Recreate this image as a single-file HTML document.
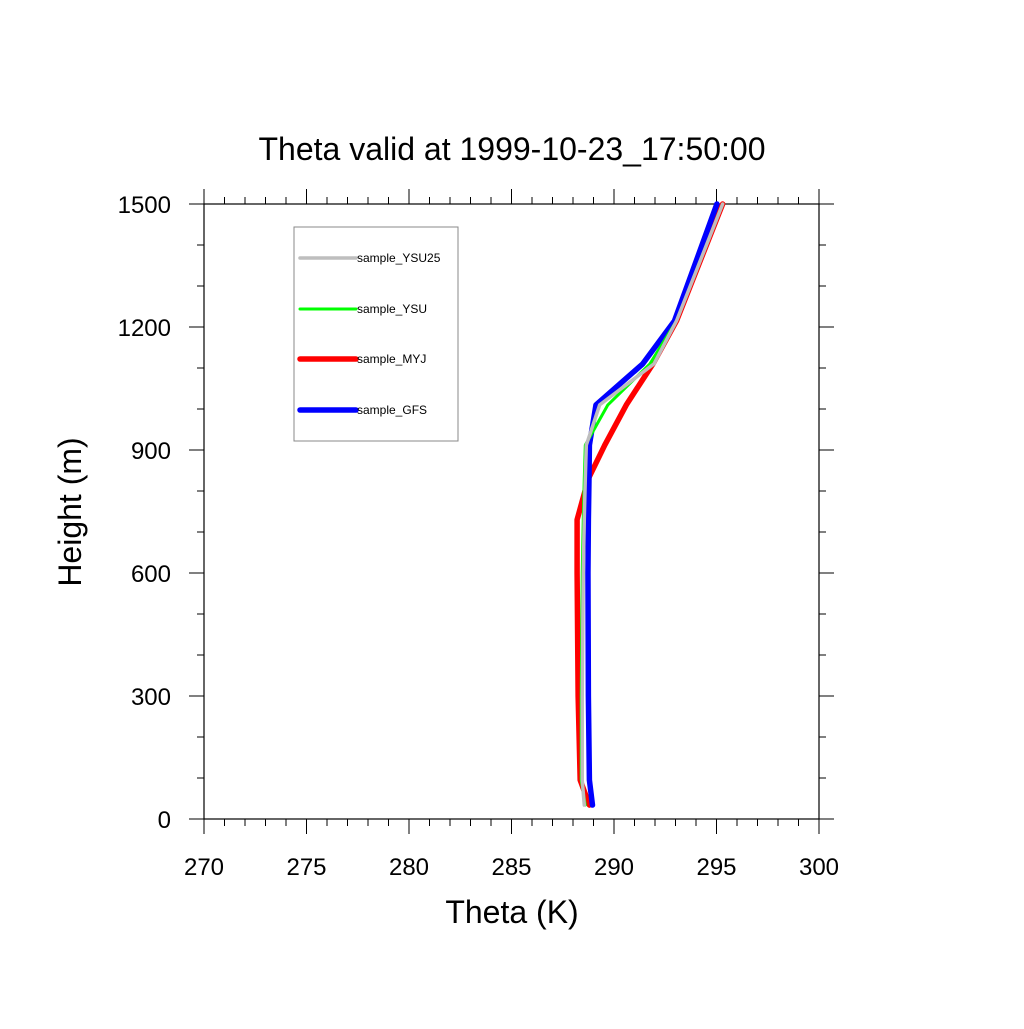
<!DOCTYPE html>
<html><head><meta charset="utf-8"><style>
body{margin:0;background:#fff;}
svg text{font-family:"Liberation Sans",sans-serif;}
</style></head><body>
<svg id="chart" width="1024" height="1024" viewBox="0 0 1024 1024" xmlns="http://www.w3.org/2000/svg">
<text x="512" y="160" text-anchor="middle" font-size="32">Theta valid at 1999-10-23_17:50:00</text>
<g id="axes"></g>
<g id="series"></g>
<rect x="294" y="227" width="164" height="214" fill="#fff" stroke="#888" stroke-width="1"/>
<g id="legend"></g>
<text x="512" y="923" text-anchor="middle" font-size="32">Theta (K)</text>
<text transform="translate(81,512) rotate(-90)" text-anchor="middle" font-size="32">Height (m)</text>
</svg>
<script>
const heights=[34,95,300,600,730,830,912,1010,1110,1215,1500];
const ysu25=[288.55,288.45,288.45,288.5,288.55,288.6,288.65,289.3,291.95,293.05,295.3];
const ysu=[288.6,288.4,288.4,288.45,288.5,288.55,288.6,289.7,291.75,293.05,295.3];
const myj=[288.8,288.35,288.25,288.2,288.2,288.75,289.55,290.6,291.9,293.05,295.3];
const gfs=[288.95,288.8,288.75,288.73,288.75,288.78,288.8,289.12,291.4,292.95,295.02];
const xTicks=[270,275,280,285,290,295,300];
const yTicks=[0,300,600,900,1200,1500];
const NS="http://www.w3.org/2000/svg";
const X0=204,X1=819,Y0=819,Y1=204;
function sx(v){return X0+(v-270)/30*(X1-X0);}
function sy(v){return Y0-(v-0)/1500*(Y0-Y1);}
function mk(tag,attrs,parent){const e=document.createElementNS(NS,tag);for(const k in attrs)e.setAttribute(k,attrs[k]);parent.appendChild(e);return e;}
const axes=document.getElementById('axes');
const frame=mk('rect',{x:X0,y:Y1,width:X1-X0,height:Y0-Y1,fill:'none',stroke:'#000','stroke-width':1.2},axes);


for(let v=270;v<=300;v++){
  const maj=(v%5===0),L=maj?15:7,x=sx(v);
  const t1=mk('line',{x1:x,y1:Y0,x2:x,y2:Y0+L,stroke:'#000','stroke-width':1},axes);
  
  
  const t2=mk('line',{x1:x,y1:Y1,x2:x,y2:Y1-L,stroke:'#000','stroke-width':1},axes);
  
  
}
xTicks.forEach(v=>{
  const t=mk('text',{x:sx(v),y:875,'text-anchor':'middle','font-size':24},axes);
  t.textContent=v;
  
  
});
for(let v=0;v<=1500;v+=100){
  const maj=(v%300===0),L=maj?15:7,y=sy(v);
  const t1=mk('line',{x1:X0,y1:y,x2:X0-L,y2:y,stroke:'#000','stroke-width':1},axes);
  
  
  const t2=mk('line',{x1:X1,y1:y,x2:X1+L,y2:y,stroke:'#000','stroke-width':1},axes);
  
  
}
yTicks.forEach(v=>{
  const t=mk('text',{x:171,y:sy(v)+9,'text-anchor':'end','font-size':24},axes);
  t.textContent=v;
  
  
});
const series=[
  {name:'sample_MYJ',vals:myj,color:'#ff0000',w:5.5,id:'series-myj'},
  {name:'sample_GFS',vals:gfs,color:'#0000ff',w:5.5,id:'series-gfs'},
  {name:'sample_YSU',vals:ysu,color:'#00ff00',w:3,id:'series-ysu'},
  {name:'sample_YSU25',vals:ysu25,color:'#bebebe',w:3.5,id:'series-ysu25'}
];
const sg=document.getElementById('series');
series.forEach(s=>{
  const pts=s.vals.map((v,i)=>sx(v)+','+sy(heights[i])).join(' ');
  const p=mk('polyline',{points:pts,fill:'none',stroke:s.color,'stroke-width':s.w,'stroke-linejoin':'round','stroke-linecap':'round'},sg);
  
  
});
const lg=document.getElementById('legend');
const leg=[
  {name:'sample_YSU25',color:'#bebebe',w:3.5,y:258},
  {name:'sample_YSU',color:'#00ff00',w:3,y:309},
  {name:'sample_MYJ',color:'#ff0000',w:5.5,y:359},
  {name:'sample_GFS',color:'#0000ff',w:5.5,y:410}
];
leg.forEach(l=>{
  const g=mk('g',{},lg);
  
  
  mk('line',{x1:300,y1:l.y,x2:356,y2:l.y,stroke:l.color,'stroke-width':l.w,'stroke-linecap':'round'},g);
  const t=mk('text',{x:357,y:l.y+4,'font-size':12},g);
  t.textContent=l.name;
});
</script>
</body></html>
